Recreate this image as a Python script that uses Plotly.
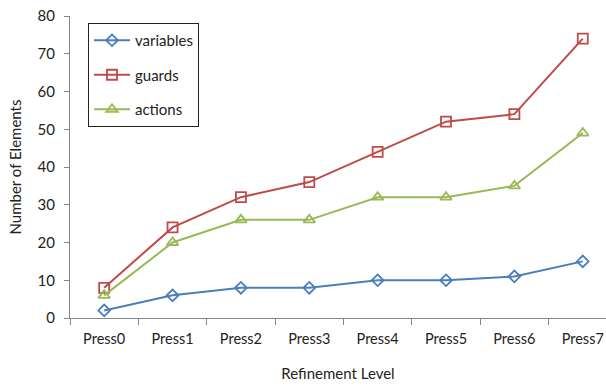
import plotly.graph_objects as go

categories = ["Press0", "Press1", "Press2", "Press3", "Press4", "Press5", "Press6", "Press7"]
variables = [2, 6, 8, 8, 10, 10, 11, 15]
guards = [8, 24, 32, 36, 44, 52, 54, 74]
actions = [6, 20, 26, 26, 32, 32, 35, 49]

series = [
    ("variables", variables, "#4a7ebb", "diamond-open", 9),
    ("guards", guards, "#be4b48", "square-open", 10),
    ("actions", actions, "#98b954", "triangle-up-open", 10),
]

fig = go.Figure()
for name, vals, color, sym, sz in series:
    fig.add_trace(go.Scatter(
        x=categories, y=vals, name=name, mode="lines+markers",
        line=dict(color=color, width=2),
        marker=dict(symbol=sym, size=sz, color=color, line=dict(width=1.8, color=color)),
        legendgroup=name,
    ))

font_family = "Lato, Open Sans, sans-serif"
fig.update_layout(
    width=606, height=386,
    margin=dict(l=70, r=0, t=16, b=68),
    paper_bgcolor="white", plot_bgcolor="white",
    font=dict(family=font_family, size=15, color="#222222"),
    showlegend=True,
    legend=dict(
        x=(88 - 70) / 536, y=(318 - 23) / 302, xanchor="left", yanchor="top",
        bordercolor="#222222", borderwidth=1, bgcolor="white",
        font=dict(size=15, family=font_family),
        tracegroupgap=12, traceorder="grouped",
        itemwidth=36,
    ),
    xaxis=dict(
        type="category", range=[-0.5, 7.34], automargin=False,
        showline=True, linecolor="#868686", linewidth=1,
        ticks="outside", tickson="boundaries", ticklen=6, tickcolor="#868686",
        showgrid=False, zeroline=False,
        title=dict(text="Refinement Level", font=dict(size=15), standoff=22),
        tickfont=dict(size=14.5), ticklabelstandoff=8, ticklabeloverflow="allow",
    ),
    yaxis=dict(
        range=[0, 80], dtick=10, automargin=False,
        showline=True, linecolor="#868686", linewidth=1,
        ticks="outside", ticklen=5, tickcolor="#868686",
        showgrid=False, zeroline=False,
        title=dict(text="Number of Elements", font=dict(size=15), standoff=12),
        tickfont=dict(size=15), ticklabelstandoff=6, ticklabeloverflow="allow",
    ),
)

# remove the default 8px page margin so the figure fills the window exactly
fig.write_html(
    "out.html",
    config={"displayModeBar": False},
    post_script="document.body.style.margin='0';",
)
